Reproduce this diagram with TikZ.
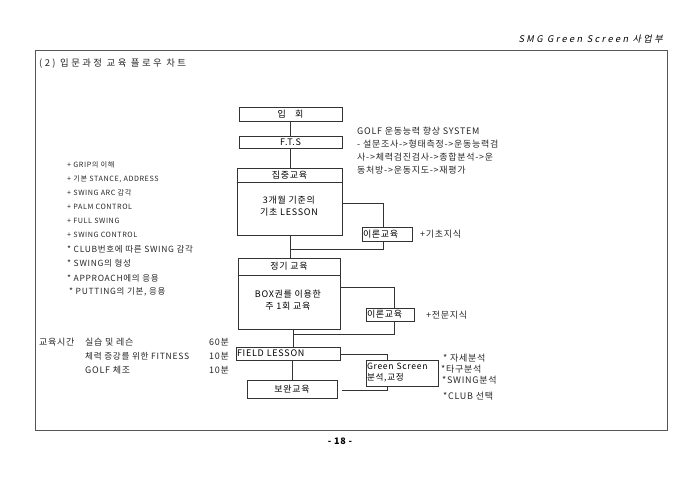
\documentclass[tikz,border=0pt]{standalone}
\usepackage{fontspec}
\setmainfont[LetterSpace=8]{Noto Sans CJK KR}
\newfontfamily\hdrfont[FakeSlant=0.2,LetterSpace=26]{Noto Sans CJK KR}
\newfontfamily\ttlfont[LetterSpace=26]{Noto Sans CJK KR}
\definecolor{ln}{HTML}{333333}
\definecolor{fr}{HTML}{555555}
\begin{document}
\begin{tikzpicture}[x=1pt,y=-1pt,
  font=\fontsize{9}{10.5}\selectfont,
  bx/.style={draw=ln, line width=0.8pt, inner sep=0pt, rectangle},
  cn/.style={draw=ln, line width=0.8pt},
  tx/.style={anchor=west, inner sep=0pt, text=black!85},
  sm/.style={tx, font=\fontsize{7.2}{8}\selectfont},
  lg/.style={tx, font=\fontsize{8.5}{9}\selectfont}]
\useasboundingbox (0,0) rectangle (680,481);
% frame
\draw[fr, line width=1pt] (35,51) rectangle (667,430);
\node[anchor=east, inner sep=0pt, font=\hdrfont\fontsize{9.2}{10}\selectfont] (hdr) at (663,39) {SMG Green Screen 사업부};
\node[tx, font=\ttlfont\fontsize{9.4}{10}\selectfont] (ttl) at (39,64) {(2) 입문과정 교육 플로우 차트};
\node[font=\bfseries\fontsize{9}{10}\selectfont, inner sep=0pt] (pg) at (340,441) {- 18 -};

% main column
\node[bx, minimum width=103pt, minimum height=14pt] (ipw) at (290.5,114) {입\quad 회};
\node[bx, minimum width=103pt, minimum height=12pt] (fts) at (290.5,142) {F.T.S};
\node[bx, minimum width=105pt, minimum height=67pt] (jip) at (289.5,201.5) {};
\draw[cn] (jip.west |- 0,182) -- (jip.east |- 0,182);
\node[inner sep=0pt] (jiph) at (289.5,175) {집중교육};
\node[inner sep=0pt, align=center] (jipb) at (289,206) {3개월 기준의\\[2pt]기초 LESSON};

\node[bx, minimum width=50pt, minimum height=14pt, text width=48pt, inner xsep=1pt, align=left] (ir1) at (387,234) {이론교육};
\node[tx] (k1) at (420,234) {+기초지식};

\node[bx, minimum width=102pt, minimum height=71pt] (jeong) at (289,293.5) {};
\draw[cn] (jeong.west |- 0,275) -- (jeong.east |- 0,275);
\node[inner sep=0pt] (jeongh) at (289,266.5) {정기 교육};
\node[inner sep=0pt, align=center] (jeongb) at (288,300) {BOX권를 이용한\\[2pt]주 1회 교육};

\node[bx, minimum width=48pt, minimum height=13pt, text width=46pt, inner xsep=1pt, align=left] (ir2) at (390,314.5) {이론교육};
\node[tx] (k2) at (426,315) {+전문지식};

\node[bx, minimum width=104pt, minimum height=13pt, text width=102pt, inner xsep=1pt, align=left] (field) at (288,353.5) {FIELD LESSON};
\node[bx, minimum width=72pt, minimum height=26pt, text width=70pt, inner xsep=1pt, align=left, font=\fontsize{8.6}{11}\selectfont] (green) at (402,373) {Green Screen\\분석,교정};
\node[bx, minimum width=90pt, minimum height=18pt] (bowan) at (292,389) {보완교육};

\node[tx] (a1) at (443,358) {* 자세분석};
\node[tx] (a2) at (441,369) {*타구분석};
\node[tx] (a3) at (442,380) {*SWING분석};
\node[tx] (a4) at (443,396) {*CLUB 선택};

% GOLF system text
\node[tx] (g1) at (357,131) {GOLF 운동능력 향상 SYSTEM};
\node[tx] (g2) at (357,144) {- 설문조사->형태측정->운동능력검};
\node[tx] (g3) at (357,157) {사->체력검진검사->종합분석->운};
\node[tx] (g4) at (357,170) {동처방->운동지도->재평가};

% connectors
\coordinate (c1) at (383,203);
\coordinate (c2) at (383,249);
\coordinate (c3) at (394,287);
\coordinate (c4) at (394,334);
\coordinate (c5) at (387,354);
\coordinate (c6) at (387,390);
\draw[cn] (ipw.south) -- (fts.north);
\draw[cn] (fts.south) -- (fts.south |- jip.north);
\draw[cn] (jip.south -| 290,0) -- (jeong.north -| 290,0);
\draw[cn] (jip.east |- c1) -- (c1) -- (c1 |- ir1.north);
\draw[cn] (ir1.south -| c2) -- (c2) -- (c2 -| 290,0);
\draw[cn] (jeong.east |- c3) -- (c3) -- (c3 |- ir2.north);
\draw[cn] (jeong.south -| 293,0) -- (field.north -| 293,0);
\draw[cn] (ir2.south -| c4) -- (c4) -- (c4 -| 293,0);
\draw[cn] (field.east |- c5) -- (c5) -- (c5 |- green.north);
\draw[cn] (field.south -| 292,0) -- (bowan.north -| 292,0);
\draw[cn] ([xshift=5pt]bowan.east |- c6) -- (c6) -- (c6 |- green.south);

% left list
\node[sm] (l1) at (67,165) {+ GRIP의 이해};
\node[sm] (l2) at (67,179) {+ 기본 STANCE, ADDRESS};
\node[sm] (l3) at (67,193) {+ SWING ARC 감각};
\node[sm] (l4) at (67,207) {+ PALM CONTROL};
\node[sm] (l5) at (67,221) {+ FULL SWING};
\node[sm] (l6) at (67,235) {+ SWING CONTROL};
\node[lg] (l7) at (67,249) {* CLUB번호에 따른 SWING 감각};
\node[lg] (l8) at (67,263) {* SWING의 형성};
\node[lg] (l9) at (67,278) {* APPROACH에의 응용};
\node[lg] (l10) at (69,292) {* PUTTING의 기본, 응용};

% time table
\node[tx] (t0) at (39,342) {교육시간};
\node[tx] (t1) at (85,342) {실습 및 레슨};
\node[tx, font=\fontsize{8.6}{10}\selectfont] (t2) at (85,356) {체력 증강를 위한 FITNESS};
\node[tx] (t3) at (85,370) {GOLF 체조};
\node[tx] (m1) at (209,342) {60분};
\node[tx] (m2) at (209,356) {10분};
\node[tx] (m3) at (209,370) {10분};
\end{tikzpicture}
\end{document}
